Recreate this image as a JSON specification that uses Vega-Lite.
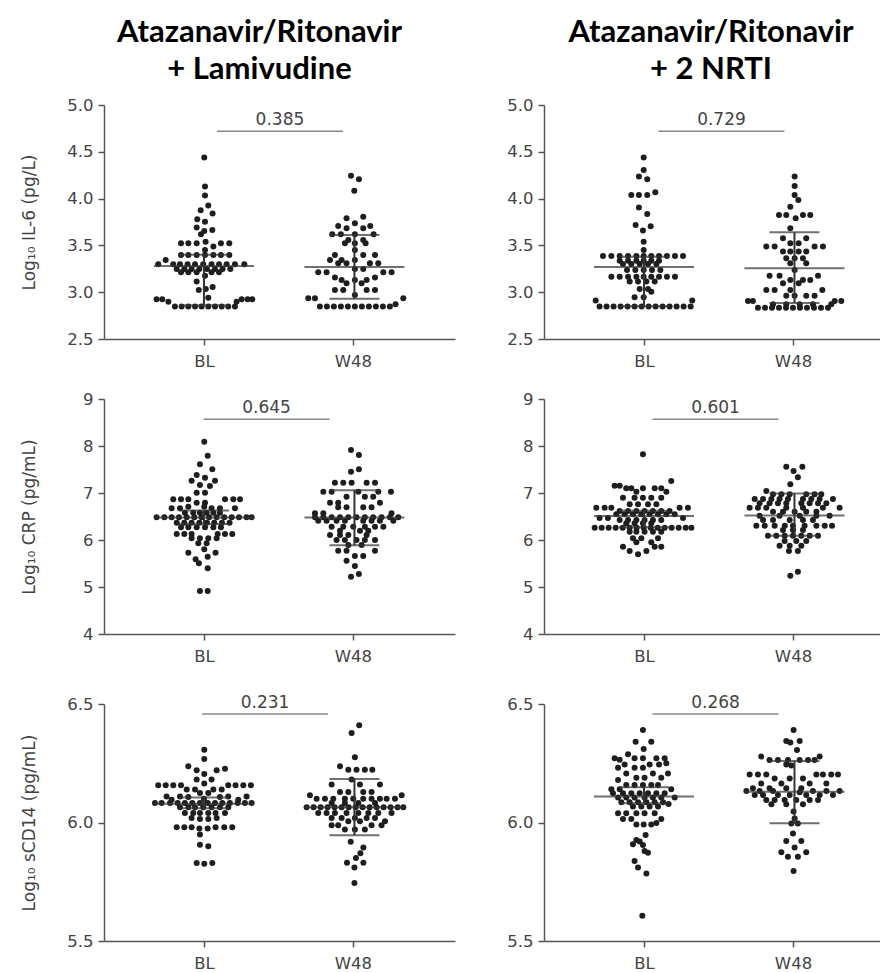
{
"$schema":"https://vega.github.io/schema/vega-lite/v6.json",
"padding":{"left":19,"top":17,"right":0,"bottom":0},
"background":"white",
"config":{"view":{"stroke":null},
"axis":{"grid":false,"domainColor":"#555","domainWidth":1.5,"tickColor":"#555","tickWidth":1.5,"tickSize":6,"labelFont":"DejaVu Sans","labelFontSize":16.5,"labelColor":"#444","labelPadding":5,"titleFont":"DejaVu Sans","titleFontSize":17,"titleFontWeight":"normal","titleColor":"#444"},
"axisX":{"labelPadding":8},
"title":{"font":"Lato","fontSize":31,"fontWeight":"bold","color":"#000","lineHeight":37,"offset":11}},
"datasets":{
"stats":[
{"p":"L1","x":1,"k":"med","y":3.28},{"p":"L1","x":1,"k":"q1","y":2.86},{"p":"L1","x":1,"k":"q3","y":3.40},
{"p":"L1","x":2.01,"k":"med","y":3.27},{"p":"L1","x":2.01,"k":"q1","y":2.93},{"p":"L1","x":2.01,"k":"q3","y":3.61},
{"p":"N1","x":1,"k":"med","y":3.27},{"p":"N1","x":1,"k":"q1","y":2.85},{"p":"N1","x":1,"k":"q3","y":3.38},
{"p":"N1","x":2.01,"k":"med","y":3.255},{"p":"N1","x":2.01,"k":"q1","y":2.885},{"p":"N1","x":2.01,"k":"q3","y":3.64},
{"p":"L2","x":1,"k":"med","y":6.48},{"p":"L2","x":1,"k":"q1","y":6.34},{"p":"L2","x":1,"k":"q3","y":6.63},
{"p":"L2","x":2.01,"k":"med","y":6.48},{"p":"L2","x":2.01,"k":"q1","y":5.89},{"p":"L2","x":2.01,"k":"q3","y":7.06},
{"p":"N2","x":1,"k":"med","y":6.51},{"p":"N2","x":1,"k":"q1","y":6.27},{"p":"N2","x":1,"k":"q3","y":6.62},
{"p":"N2","x":2.01,"k":"med","y":6.52},{"p":"N2","x":2.01,"k":"q1","y":6.09},{"p":"N2","x":2.01,"k":"q3","y":6.99},
{"p":"L3","x":1,"k":"med","y":6.079},{"p":"L3","x":1,"k":"q1","y":6.06},{"p":"L3","x":1,"k":"q3","y":6.105},
{"p":"L3","x":2.01,"k":"med","y":6.064},{"p":"L3","x":2.01,"k":"q1","y":5.946},{"p":"L3","x":2.01,"k":"q3","y":6.184},
{"p":"N3","x":1,"k":"med","y":6.11},{"p":"N3","x":1,"k":"q1","y":6.081},{"p":"N3","x":1,"k":"q3","y":6.149},
{"p":"N3","x":2.01,"k":"med","y":6.13},{"p":"N3","x":2.01,"k":"q1","y":5.997},{"p":"N3","x":2.01,"k":"q3","y":6.26}],
"iqr":[
{"p":"L1","x":1,"y":2.86,"y2":3.40},{"p":"L1","x":2.01,"y":2.93,"y2":3.61},
{"p":"N1","x":1,"y":2.85,"y2":3.38},{"p":"N1","x":2.01,"y":2.885,"y2":3.64},
{"p":"L2","x":1,"y":6.34,"y2":6.63},{"p":"L2","x":2.01,"y":5.89,"y2":7.06},
{"p":"N2","x":1,"y":6.27,"y2":6.62},{"p":"N2","x":2.01,"y":6.09,"y2":6.99},
{"p":"L3","x":1,"y":6.06,"y2":6.105},{"p":"L3","x":2.01,"y":5.946,"y2":6.184},
{"p":"N3","x":1,"y":6.081,"y2":6.149},{"p":"N3","x":2.01,"y":5.997,"y2":6.26}],
"br":[
{"p":"L1","x":1.51,"y":4.72,"t":"0.385"},{"p":"N1","x":1.52,"y":4.72,"t":"0.729"},
{"p":"L2","x":1.42,"y":8.57,"t":"0.645"},{"p":"N2","x":1.48,"y":8.57,"t":"0.601"},
{"p":"L3","x":1.41,"y":6.458,"t":"0.231"},{"p":"N3","x":1.48,"y":6.458,"t":"0.268"}],
"pts":[
{"p":"L1","x":1.002,"y":4.438},{"p":"L1","x":1.007,"y":4.128},{"p":"L1","x":1.007,"y":4.032},{"p":"L1","x":1.029,"y":3.925},{"p":"L1","x":0.978,"y":3.875},{"p":"L1","x":1.058,"y":3.84},{"p":"L1","x":0.955,"y":3.78},{"p":"L1","x":1.007,"y":3.754},{"p":"L1","x":0.951,"y":3.69},{"p":"L1","x":1.056,"y":3.665},{"p":"L1","x":1.002,"y":3.654},{"p":"L1","x":0.98,"y":3.62},
{"p":"L1","x":0.846,"y":3.523},{"p":"L1","x":0.895,"y":3.523},{"p":"L1","x":0.951,"y":3.523},{"p":"L1","x":1.114,"y":3.523},{"p":"L1","x":1.17,"y":3.523},{"p":"L1","x":1.011,"y":3.54},{"p":"L1","x":1.063,"y":3.487},{"p":"L1","x":1.007,"y":3.451},
{"p":"L1","x":0.846,"y":3.398},{"p":"L1","x":0.895,"y":3.398},{"p":"L1","x":0.951,"y":3.398},{"p":"L1","x":1.007,"y":3.398},{"p":"L1","x":1.063,"y":3.398},{"p":"L1","x":1.114,"y":3.398},{"p":"L1","x":1.17,"y":3.398},{"p":"L1","x":0.743,"y":3.345},
{"p":"L1","x":0.693,"y":3.298},{"p":"L1","x":0.794,"y":3.298},{"p":"L1","x":0.839,"y":3.298},{"p":"L1","x":0.89,"y":3.298},{"p":"L1","x":0.94,"y":3.298},{"p":"L1","x":0.995,"y":3.298},{"p":"L1","x":1.051,"y":3.298},{"p":"L1","x":1.101,"y":3.298},{"p":"L1","x":1.152,"y":3.298},{"p":"L1","x":1.208,"y":3.298},{"p":"L1","x":1.271,"y":3.298},
{"p":"L1","x":0.817,"y":3.248},{"p":"L1","x":0.868,"y":3.248},{"p":"L1","x":0.917,"y":3.248},{"p":"L1","x":0.969,"y":3.248},{"p":"L1","x":1.02,"y":3.248},{"p":"L1","x":1.074,"y":3.248},{"p":"L1","x":1.125,"y":3.248},{"p":"L1","x":1.177,"y":3.248},
{"p":"L1","x":0.846,"y":3.213},{"p":"L1","x":0.895,"y":3.213},{"p":"L1","x":0.951,"y":3.213},{"p":"L1","x":1.051,"y":3.213},{"p":"L1","x":1.101,"y":3.213},{"p":"L1","x":1.007,"y":3.177},
{"p":"L1","x":0.951,"y":3.113},{"p":"L1","x":0.965,"y":3.024},{"p":"L1","x":1.012,"y":3.035},{"p":"L1","x":1.058,"y":3.056},{"p":"L1","x":1.029,"y":2.942},
{"p":"L1","x":0.682,"y":2.924},{"p":"L1","x":0.72,"y":2.924},{"p":"L1","x":1.253,"y":2.924},{"p":"L1","x":1.293,"y":2.924},{"p":"L1","x":1.324,"y":2.924},{"p":"L1","x":0.761,"y":2.899},{"p":"L1","x":1.219,"y":2.899},
{"p":"L1","x":0.805,"y":2.846},{"p":"L1","x":0.85,"y":2.846},{"p":"L1","x":0.895,"y":2.846},{"p":"L1","x":0.94,"y":2.846},{"p":"L1","x":0.984,"y":2.846},{"p":"L1","x":1.029,"y":2.846},{"p":"L1","x":1.074,"y":2.846},{"p":"L1","x":1.119,"y":2.846},{"p":"L1","x":1.163,"y":2.846},{"p":"L1","x":1.208,"y":2.846},
{"p":"L1","x":1.987,"y":4.245},{"p":"L1","x":2.04,"y":4.206},{"p":"L1","x":2.009,"y":4.085},{"p":"L1","x":2.069,"y":3.807},{"p":"L1","x":1.957,"y":3.79},{"p":"L1","x":2.013,"y":3.736},{"p":"L1","x":1.901,"y":3.708},{"p":"L1","x":2.116,"y":3.708},{"p":"L1","x":1.957,"y":3.683},{"p":"L1","x":2.069,"y":3.683},
{"p":"L1","x":1.861,"y":3.619},{"p":"L1","x":1.919,"y":3.619},{"p":"L1","x":2.013,"y":3.619},{"p":"L1","x":2.139,"y":3.619},{"p":"L1","x":1.969,"y":3.558},{"p":"L1","x":2.069,"y":3.558},{"p":"L1","x":1.946,"y":3.523},{"p":"L1","x":2.013,"y":3.523},{"p":"L1","x":2.085,"y":3.523},{"p":"L1","x":2.013,"y":3.45},
{"p":"L1","x":1.879,"y":3.398},{"p":"L1","x":2.069,"y":3.398},{"p":"L1","x":2.148,"y":3.398},{"p":"L1","x":1.846,"y":3.345},{"p":"L1","x":1.924,"y":3.345},{"p":"L1","x":2.013,"y":3.345},{"p":"L1","x":1.901,"y":3.309},{"p":"L1","x":1.957,"y":3.309},{"p":"L1","x":2.114,"y":3.309},{"p":"L1","x":2.17,"y":3.309},
{"p":"L1","x":2.013,"y":3.248},{"p":"L1","x":2.069,"y":3.248},{"p":"L1","x":1.767,"y":3.213},{"p":"L1","x":1.823,"y":3.213},{"p":"L1","x":2.204,"y":3.213},{"p":"L1","x":2.259,"y":3.213},{"p":"L1","x":1.879,"y":3.156},{"p":"L1","x":2.148,"y":3.156},{"p":"L1","x":1.924,"y":3.131},{"p":"L1","x":2.013,"y":3.131},{"p":"L1","x":2.092,"y":3.131},
{"p":"L1","x":1.957,"y":3.095},{"p":"L1","x":2.058,"y":3.095},{"p":"L1","x":1.879,"y":3.024},{"p":"L1","x":1.935,"y":3.024},{"p":"L1","x":2.092,"y":3.024},{"p":"L1","x":2.148,"y":3.024},{"p":"L1","x":2.013,"y":2.971},{"p":"L1","x":1.7,"y":2.935},{"p":"L1","x":1.745,"y":2.935},{"p":"L1","x":2.338,"y":2.935},
{"p":"L1","x":1.778,"y":2.846},{"p":"L1","x":1.825,"y":2.846},{"p":"L1","x":1.872,"y":2.846},{"p":"L1","x":1.919,"y":2.846},{"p":"L1","x":1.966,"y":2.846},{"p":"L1","x":2.013,"y":2.846},{"p":"L1","x":2.06,"y":2.846},{"p":"L1","x":2.107,"y":2.846},{"p":"L1","x":2.154,"y":2.846},{"p":"L1","x":2.201,"y":2.846},{"p":"L1","x":2.248,"y":2.846},{"p":"L1","x":2.286,"y":2.871},

{"p":"N1","x":0.998,"y":4.438},{"p":"N1","x":0.998,"y":4.306},{"p":"N1","x":0.966,"y":4.235},{"p":"N1","x":1.022,"y":4.206},{"p":"N1","x":0.915,"y":4.039},{"p":"N1","x":0.966,"y":4.039},{"p":"N1","x":1.022,"y":4.039},{"p":"N1","x":1.076,"y":4.067},{"p":"N1","x":0.966,"y":3.904},{"p":"N1","x":1.022,"y":3.836},
{"p":"N1","x":0.944,"y":3.718},{"p":"N1","x":1.045,"y":3.704},{"p":"N1","x":0.993,"y":3.658},{"p":"N1","x":0.998,"y":3.54},{"p":"N1","x":0.998,"y":3.451},
{"p":"N1","x":0.725,"y":3.387},{"p":"N1","x":0.781,"y":3.387},{"p":"N1","x":0.837,"y":3.387},{"p":"N1","x":0.893,"y":3.387},{"p":"N1","x":0.949,"y":3.387},{"p":"N1","x":0.998,"y":3.387},{"p":"N1","x":1.049,"y":3.387},{"p":"N1","x":1.101,"y":3.387},{"p":"N1","x":1.154,"y":3.387},{"p":"N1","x":1.208,"y":3.387},{"p":"N1","x":1.262,"y":3.387},
{"p":"N1","x":0.837,"y":3.337},{"p":"N1","x":0.893,"y":3.337},{"p":"N1","x":0.949,"y":3.337},{"p":"N1","x":0.998,"y":3.337},{"p":"N1","x":1.049,"y":3.337},{"p":"N1","x":1.101,"y":3.337},
{"p":"N1","x":0.859,"y":3.302},{"p":"N1","x":0.915,"y":3.302},{"p":"N1","x":0.971,"y":3.302},{"p":"N1","x":1.027,"y":3.302},{"p":"N1","x":1.083,"y":3.302},
{"p":"N1","x":0.886,"y":3.238},{"p":"N1","x":0.942,"y":3.238},{"p":"N1","x":0.998,"y":3.238},{"p":"N1","x":1.054,"y":3.238},{"p":"N1","x":1.11,"y":3.238},
{"p":"N1","x":0.781,"y":3.166},{"p":"N1","x":0.837,"y":3.166},{"p":"N1","x":0.893,"y":3.166},{"p":"N1","x":0.949,"y":3.166},{"p":"N1","x":0.998,"y":3.166},{"p":"N1","x":1.049,"y":3.166},{"p":"N1","x":1.101,"y":3.166},{"p":"N1","x":1.154,"y":3.166},{"p":"N1","x":1.208,"y":3.166},
{"p":"N1","x":0.904,"y":3.113},{"p":"N1","x":0.96,"y":3.113},{"p":"N1","x":1.016,"y":3.113},{"p":"N1","x":1.072,"y":3.113},{"p":"N1","x":0.971,"y":3.035},{"p":"N1","x":1.027,"y":3.035},{"p":"N1","x":1.049,"y":3.006},{"p":"N1","x":0.937,"y":2.946},{"p":"N1","x":0.998,"y":2.946},{"p":"N1","x":0.676,"y":2.91},{"p":"N1","x":1.324,"y":2.91},
{"p":"N1","x":0.702,"y":2.846},{"p":"N1","x":0.749,"y":2.846},{"p":"N1","x":0.796,"y":2.846},{"p":"N1","x":0.843,"y":2.846},{"p":"N1","x":0.89,"y":2.846},{"p":"N1","x":0.937,"y":2.846},{"p":"N1","x":0.984,"y":2.846},{"p":"N1","x":1.031,"y":2.846},{"p":"N1","x":1.078,"y":2.846},{"p":"N1","x":1.125,"y":2.846},{"p":"N1","x":1.172,"y":2.846},{"p":"N1","x":1.219,"y":2.846},{"p":"N1","x":1.266,"y":2.846},{"p":"N1","x":1.313,"y":2.846},
{"p":"N1","x":2.011,"y":4.235},{"p":"N1","x":2.011,"y":4.135},{"p":"N1","x":2.011,"y":4.039},{"p":"N1","x":2.036,"y":3.985},{"p":"N1","x":1.982,"y":3.914},{"p":"N1","x":1.906,"y":3.825},{"p":"N1","x":1.955,"y":3.825},{"p":"N1","x":2.067,"y":3.825},{"p":"N1","x":2.116,"y":3.825},{"p":"N1","x":2.018,"y":3.79},{"p":"N1","x":1.982,"y":3.683},
{"p":"N1","x":1.933,"y":3.576},{"p":"N1","x":2.089,"y":3.576},{"p":"N1","x":1.982,"y":3.523},{"p":"N1","x":2.038,"y":3.523},{"p":"N1","x":1.821,"y":3.487},{"p":"N1","x":1.877,"y":3.487},{"p":"N1","x":2.145,"y":3.487},{"p":"N1","x":2.201,"y":3.487},
{"p":"N1","x":1.933,"y":3.434},{"p":"N1","x":1.982,"y":3.434},{"p":"N1","x":2.038,"y":3.434},{"p":"N1","x":2.089,"y":3.434},{"p":"N1","x":1.955,"y":3.362},{"p":"N1","x":2.011,"y":3.362},{"p":"N1","x":2.067,"y":3.362},{"p":"N1","x":1.982,"y":3.309},{"p":"N1","x":2.089,"y":3.309},{"p":"N1","x":2.011,"y":3.238},
{"p":"N1","x":1.843,"y":3.177},{"p":"N1","x":1.91,"y":3.177},{"p":"N1","x":2.168,"y":3.177},{"p":"N1","x":1.982,"y":3.131},{"p":"N1","x":2.067,"y":3.131},{"p":"N1","x":2.116,"y":3.131},{"p":"N1","x":1.933,"y":3.095},{"p":"N1","x":2.038,"y":3.095},
{"p":"N1","x":1.821,"y":3.024},{"p":"N1","x":1.877,"y":3.024},{"p":"N1","x":1.982,"y":3.024},{"p":"N1","x":2.197,"y":3.024},{"p":"N1","x":1.955,"y":2.963},{"p":"N1","x":2.011,"y":2.963},{"p":"N1","x":2.089,"y":2.963},{"p":"N1","x":2.145,"y":2.963},
{"p":"N1","x":1.698,"y":2.906},{"p":"N1","x":1.731,"y":2.906},{"p":"N1","x":2.28,"y":2.906},{"p":"N1","x":2.324,"y":2.906},
{"p":"N1","x":1.765,"y":2.835},{"p":"N1","x":1.812,"y":2.835},{"p":"N1","x":1.859,"y":2.835},{"p":"N1","x":1.906,"y":2.835},{"p":"N1","x":1.953,"y":2.835},{"p":"N1","x":2.0,"y":2.835},{"p":"N1","x":2.047,"y":2.835},{"p":"N1","x":2.094,"y":2.835},{"p":"N1","x":2.141,"y":2.835},{"p":"N1","x":2.188,"y":2.835},{"p":"N1","x":2.235,"y":2.835},
{"p":"N1","x":1.866,"y":2.871},{"p":"N1","x":1.955,"y":2.871},{"p":"N1","x":2.045,"y":2.871},{"p":"N1","x":2.134,"y":2.871},{"p":"N1","x":2.257,"y":2.871},

{"p":"L2","x":1.002,"y":8.092},{"p":"L2","x":1.025,"y":7.794},{"p":"L2","x":0.973,"y":7.61},{"p":"L2","x":1.056,"y":7.503},{"p":"L2","x":0.951,"y":7.383},{"p":"L2","x":1.007,"y":7.326},{"p":"L2","x":0.917,"y":7.262},{"p":"L2","x":1.074,"y":7.262},{"p":"L2","x":0.973,"y":7.17},{"p":"L2","x":1.04,"y":7.15},{"p":"L2","x":0.951,"y":7.007},{"p":"L2","x":1.007,"y":7.007},
{"p":"L2","x":0.794,"y":6.865},{"p":"L2","x":0.846,"y":6.865},{"p":"L2","x":0.895,"y":6.865},{"p":"L2","x":1.141,"y":6.865},{"p":"L2","x":1.197,"y":6.865},{"p":"L2","x":1.242,"y":6.865},{"p":"L2","x":0.951,"y":6.794},{"p":"L2","x":1.007,"y":6.794},{"p":"L2","x":0.895,"y":6.709},{"p":"L2","x":1.002,"y":6.709},
{"p":"L2","x":0.783,"y":6.673},{"p":"L2","x":0.839,"y":6.673},{"p":"L2","x":1.051,"y":6.673},{"p":"L2","x":1.107,"y":6.673},{"p":"L2","x":1.208,"y":6.673},
{"p":"L2","x":0.872,"y":6.581},{"p":"L2","x":0.928,"y":6.581},{"p":"L2","x":0.973,"y":6.581},{"p":"L2","x":1.018,"y":6.581},{"p":"L2","x":1.063,"y":6.581},{"p":"L2","x":1.107,"y":6.581},
{"p":"L2","x":0.682,"y":6.482},{"p":"L2","x":0.734,"y":6.482},{"p":"L2","x":0.783,"y":6.482},{"p":"L2","x":0.832,"y":6.482},{"p":"L2","x":0.884,"y":6.482},{"p":"L2","x":0.935,"y":6.482},{"p":"L2","x":0.984,"y":6.482},{"p":"L2","x":1.034,"y":6.482},{"p":"L2","x":1.085,"y":6.482},{"p":"L2","x":1.136,"y":6.482},{"p":"L2","x":1.186,"y":6.482},{"p":"L2","x":1.235,"y":6.482},{"p":"L2","x":1.286,"y":6.482},{"p":"L2","x":1.32,"y":6.482},
{"p":"L2","x":0.817,"y":6.368},{"p":"L2","x":0.868,"y":6.368},{"p":"L2","x":0.917,"y":6.368},{"p":"L2","x":0.969,"y":6.368},{"p":"L2","x":1.02,"y":6.368},{"p":"L2","x":1.069,"y":6.368},{"p":"L2","x":1.121,"y":6.368},{"p":"L2","x":1.172,"y":6.368},
{"p":"L2","x":0.846,"y":6.269},{"p":"L2","x":0.895,"y":6.269},{"p":"L2","x":0.951,"y":6.269},{"p":"L2","x":1.007,"y":6.269},{"p":"L2","x":1.063,"y":6.269},{"p":"L2","x":1.114,"y":6.269},
{"p":"L2","x":0.817,"y":6.127},{"p":"L2","x":0.868,"y":6.127},{"p":"L2","x":0.917,"y":6.127},{"p":"L2","x":1.092,"y":6.127},{"p":"L2","x":1.141,"y":6.127},{"p":"L2","x":1.19,"y":6.127},
{"p":"L2","x":0.917,"y":6.035},{"p":"L2","x":0.973,"y":6.035},{"p":"L2","x":1.029,"y":6.035},{"p":"L2","x":1.085,"y":6.035},{"p":"L2","x":0.962,"y":5.929},{"p":"L2","x":1.018,"y":5.929},{"p":"L2","x":1.002,"y":5.801},{"p":"L2","x":0.895,"y":5.73},{"p":"L2","x":1.078,"y":5.73},{"p":"L2","x":1.025,"y":5.645},{"p":"L2","x":0.944,"y":5.588},{"p":"L2","x":0.966,"y":5.503},{"p":"L2","x":1.025,"y":5.397},{"p":"L2","x":0.973,"y":4.915},{"p":"L2","x":1.025,"y":4.915},
{"p":"L2","x":1.987,"y":7.915},{"p":"L2","x":2.04,"y":7.808},{"p":"L2","x":2.04,"y":7.503},{"p":"L2","x":1.987,"y":7.454},
{"p":"L2","x":1.879,"y":7.219},{"p":"L2","x":1.935,"y":7.219},{"p":"L2","x":1.991,"y":7.219},{"p":"L2","x":2.092,"y":7.219},{"p":"L2","x":2.148,"y":7.219},
{"p":"L2","x":1.801,"y":7.028},{"p":"L2","x":1.857,"y":7.028},{"p":"L2","x":2.036,"y":7.028},{"p":"L2","x":2.17,"y":7.028},{"p":"L2","x":2.255,"y":7.028},
{"p":"L2","x":1.957,"y":6.922},{"p":"L2","x":2.08,"y":6.922},{"p":"L2","x":2.136,"y":6.922},{"p":"L2","x":1.846,"y":6.794},{"p":"L2","x":1.901,"y":6.794},{"p":"L2","x":2.181,"y":6.794},
{"p":"L2","x":1.901,"y":6.695},{"p":"L2","x":1.957,"y":6.695},{"p":"L2","x":2.069,"y":6.695},{"p":"L2","x":2.125,"y":6.695},{"p":"L2","x":1.745,"y":6.567},{"p":"L2","x":1.801,"y":6.567},{"p":"L2","x":2.259,"y":6.567},
{"p":"L2","x":1.745,"y":6.482},{"p":"L2","x":1.801,"y":6.482},{"p":"L2","x":1.857,"y":6.482},{"p":"L2","x":1.913,"y":6.482},{"p":"L2","x":1.969,"y":6.482},{"p":"L2","x":2.024,"y":6.482},{"p":"L2","x":2.08,"y":6.482},{"p":"L2","x":2.136,"y":6.482},{"p":"L2","x":2.192,"y":6.482},{"p":"L2","x":2.248,"y":6.482},{"p":"L2","x":2.304,"y":6.482},
{"p":"L2","x":1.767,"y":6.411},{"p":"L2","x":1.823,"y":6.411},{"p":"L2","x":1.89,"y":6.411},{"p":"L2","x":1.946,"y":6.411},{"p":"L2","x":2.069,"y":6.411},{"p":"L2","x":2.125,"y":6.411},{"p":"L2","x":2.181,"y":6.411},{"p":"L2","x":2.271,"y":6.411},
{"p":"L2","x":1.857,"y":6.283},{"p":"L2","x":1.935,"y":6.283},{"p":"L2","x":2.002,"y":6.283},{"p":"L2","x":2.08,"y":6.283},{"p":"L2","x":2.148,"y":6.283},{"p":"L2","x":2.204,"y":6.283},
{"p":"L2","x":1.913,"y":6.198},{"p":"L2","x":2.047,"y":6.198},{"p":"L2","x":2.103,"y":6.198},{"p":"L2","x":1.846,"y":6.106},{"p":"L2","x":1.913,"y":6.106},{"p":"L2","x":1.969,"y":6.106},{"p":"L2","x":2.092,"y":6.106},
{"p":"L2","x":1.89,"y":6.0},{"p":"L2","x":1.946,"y":6.0},{"p":"L2","x":2.024,"y":6.0},{"p":"L2","x":2.08,"y":6.0},{"p":"L2","x":2.148,"y":6.0},{"p":"L2","x":1.969,"y":5.893},{"p":"L2","x":2.058,"y":5.893},
{"p":"L2","x":1.901,"y":5.773},{"p":"L2","x":1.957,"y":5.773},{"p":"L2","x":2.148,"y":5.773},{"p":"L2","x":2.013,"y":5.66},{"p":"L2","x":2.069,"y":5.66},{"p":"L2","x":1.957,"y":5.56},{"p":"L2","x":2.013,"y":5.446},{"p":"L2","x":1.987,"y":5.22},{"p":"L2","x":2.04,"y":5.276},

{"p":"N2","x":0.993,"y":7.822},{"p":"N2","x":1.183,"y":7.255},{"p":"N2","x":0.803,"y":7.156},{"p":"N2","x":0.837,"y":7.156},
{"p":"N2","x":0.881,"y":7.1},{"p":"N2","x":0.915,"y":7.1},{"p":"N2","x":0.993,"y":7.1},{"p":"N2","x":1.072,"y":7.1},{"p":"N2","x":1.116,"y":7.1},{"p":"N2","x":1.15,"y":7.028},{"p":"N2","x":0.949,"y":7.028},
{"p":"N2","x":0.859,"y":6.9},{"p":"N2","x":0.937,"y":6.9},{"p":"N2","x":0.993,"y":6.9},{"p":"N2","x":1.049,"y":6.9},{"p":"N2","x":1.116,"y":6.9},
{"p":"N2","x":0.904,"y":6.759},{"p":"N2","x":0.96,"y":6.759},{"p":"N2","x":1.027,"y":6.759},{"p":"N2","x":1.083,"y":6.759},
{"p":"N2","x":0.68,"y":6.688},{"p":"N2","x":0.736,"y":6.688},{"p":"N2","x":0.781,"y":6.688},{"p":"N2","x":1.239,"y":6.688},{"p":"N2","x":1.295,"y":6.688},
{"p":"N2","x":0.837,"y":6.617},{"p":"N2","x":0.893,"y":6.617},{"p":"N2","x":0.949,"y":6.617},{"p":"N2","x":1.004,"y":6.617},{"p":"N2","x":1.06,"y":6.617},{"p":"N2","x":1.116,"y":6.617},{"p":"N2","x":1.172,"y":6.617},
{"p":"N2","x":0.814,"y":6.546},{"p":"N2","x":0.87,"y":6.546},{"p":"N2","x":0.926,"y":6.546},{"p":"N2","x":0.982,"y":6.546},{"p":"N2","x":1.038,"y":6.546},{"p":"N2","x":1.094,"y":6.546},{"p":"N2","x":1.15,"y":6.546},{"p":"N2","x":1.206,"y":6.546},
{"p":"N2","x":0.702,"y":6.47},{"p":"N2","x":0.758,"y":6.47},{"p":"N2","x":1.262,"y":6.47},
{"p":"N2","x":0.837,"y":6.425},{"p":"N2","x":0.893,"y":6.425},{"p":"N2","x":0.949,"y":6.425},{"p":"N2","x":1.004,"y":6.425},{"p":"N2","x":1.06,"y":6.425},{"p":"N2","x":1.116,"y":6.425},
{"p":"N2","x":0.881,"y":6.354},{"p":"N2","x":0.937,"y":6.354},{"p":"N2","x":0.993,"y":6.354},{"p":"N2","x":1.049,"y":6.354},
{"p":"N2","x":0.669,"y":6.262},{"p":"N2","x":0.716,"y":6.262},{"p":"N2","x":0.763,"y":6.262},{"p":"N2","x":0.81,"y":6.262},{"p":"N2","x":0.857,"y":6.262},{"p":"N2","x":0.904,"y":6.262},{"p":"N2","x":0.951,"y":6.262},{"p":"N2","x":0.998,"y":6.262},{"p":"N2","x":1.045,"y":6.262},{"p":"N2","x":1.092,"y":6.262},{"p":"N2","x":1.139,"y":6.262},{"p":"N2","x":1.186,"y":6.262},{"p":"N2","x":1.233,"y":6.262},{"p":"N2","x":1.28,"y":6.262},{"p":"N2","x":1.318,"y":6.262},
{"p":"N2","x":0.904,"y":6.177},{"p":"N2","x":0.949,"y":6.177},{"p":"N2","x":1.004,"y":6.177},{"p":"N2","x":1.06,"y":6.177},{"p":"N2","x":1.116,"y":6.177},
{"p":"N2","x":0.926,"y":6.035},{"p":"N2","x":0.982,"y":6.035},{"p":"N2","x":1.094,"y":6.035},{"p":"N2","x":0.949,"y":5.95},{"p":"N2","x":1.049,"y":5.95},{"p":"N2","x":0.859,"y":5.858},{"p":"N2","x":1.072,"y":5.858},{"p":"N2","x":1.116,"y":5.858},{"p":"N2","x":0.904,"y":5.766},{"p":"N2","x":1.016,"y":5.766},{"p":"N2","x":0.96,"y":5.695},
{"p":"N2","x":1.955,"y":7.56},{"p":"N2","x":2.063,"y":7.56},{"p":"N2","x":2.004,"y":7.468},{"p":"N2","x":2.033,"y":7.333},{"p":"N2","x":1.982,"y":7.184},{"p":"N2","x":1.821,"y":7.042},
{"p":"N2","x":1.866,"y":6.971},{"p":"N2","x":1.922,"y":6.971},{"p":"N2","x":1.978,"y":6.971},{"p":"N2","x":2.089,"y":6.971},{"p":"N2","x":2.145,"y":6.971},{"p":"N2","x":2.19,"y":6.971},
{"p":"N2","x":1.743,"y":6.872},{"p":"N2","x":1.799,"y":6.872},{"p":"N2","x":1.855,"y":6.872},{"p":"N2","x":1.91,"y":6.872},{"p":"N2","x":1.966,"y":6.872},{"p":"N2","x":2.067,"y":6.872},{"p":"N2","x":2.123,"y":6.872},{"p":"N2","x":2.179,"y":6.872},{"p":"N2","x":2.268,"y":6.872},
{"p":"N2","x":1.776,"y":6.78},{"p":"N2","x":1.843,"y":6.78},{"p":"N2","x":1.899,"y":6.78},{"p":"N2","x":1.955,"y":6.78},{"p":"N2","x":2.056,"y":6.78},{"p":"N2","x":2.112,"y":6.78},{"p":"N2","x":2.168,"y":6.78},{"p":"N2","x":2.224,"y":6.78},
{"p":"N2","x":1.709,"y":6.688},{"p":"N2","x":1.765,"y":6.688},{"p":"N2","x":2.313,"y":6.688},{"p":"N2","x":1.821,"y":6.688},{"p":"N2","x":1.955,"y":6.688},{"p":"N2","x":2.067,"y":6.688},{"p":"N2","x":2.201,"y":6.688},
{"p":"N2","x":1.866,"y":6.603},{"p":"N2","x":1.933,"y":6.603},{"p":"N2","x":2.011,"y":6.603},{"p":"N2","x":2.089,"y":6.603},{"p":"N2","x":2.157,"y":6.603},
{"p":"N2","x":1.776,"y":6.518},{"p":"N2","x":1.91,"y":6.518},{"p":"N2","x":2.045,"y":6.518},{"p":"N2","x":2.157,"y":6.518},{"p":"N2","x":2.246,"y":6.518},
{"p":"N2","x":1.799,"y":6.425},{"p":"N2","x":1.866,"y":6.425},{"p":"N2","x":1.978,"y":6.425},{"p":"N2","x":2.067,"y":6.425},{"p":"N2","x":2.134,"y":6.425},
{"p":"N2","x":1.754,"y":6.305},{"p":"N2","x":1.81,"y":6.305},{"p":"N2","x":1.877,"y":6.305},{"p":"N2","x":1.945,"y":6.305},{"p":"N2","x":2.0,"y":6.305},{"p":"N2","x":2.078,"y":6.305},{"p":"N2","x":2.157,"y":6.305},{"p":"N2","x":2.213,"y":6.305},{"p":"N2","x":2.262,"y":6.305},
{"p":"N2","x":1.933,"y":6.213},{"p":"N2","x":2.0,"y":6.213},{"p":"N2","x":2.067,"y":6.213},
{"p":"N2","x":1.832,"y":6.092},{"p":"N2","x":1.888,"y":6.092},{"p":"N2","x":1.944,"y":6.092},{"p":"N2","x":2.0,"y":6.092},{"p":"N2","x":2.056,"y":6.092},{"p":"N2","x":2.112,"y":6.092},{"p":"N2","x":2.168,"y":6.092},
{"p":"N2","x":1.944,"y":5.979},{"p":"N2","x":2.022,"y":5.979},{"p":"N2","x":2.089,"y":5.979},{"p":"N2","x":1.91,"y":5.88},{"p":"N2","x":1.978,"y":5.88},{"p":"N2","x":2.056,"y":5.88},{"p":"N2","x":1.973,"y":5.766},{"p":"N2","x":2.033,"y":5.766},{"p":"N2","x":2.033,"y":5.326},{"p":"N2","x":1.982,"y":5.241},

{"p":"L3","x":1.002,"y":6.307},{"p":"L3","x":1.002,"y":6.268},{"p":"L3","x":0.895,"y":6.237},{"p":"L3","x":1.141,"y":6.227},{"p":"L3","x":0.951,"y":6.22},{"p":"L3","x":1.085,"y":6.22},{"p":"L3","x":1.002,"y":6.205},{"p":"L3","x":0.951,"y":6.181},{"p":"L3","x":1.051,"y":6.181},{"p":"L3","x":1.002,"y":6.165},
{"p":"L3","x":0.693,"y":6.157},{"p":"L3","x":0.743,"y":6.157},{"p":"L3","x":0.794,"y":6.157},{"p":"L3","x":0.846,"y":6.157},{"p":"L3","x":1.163,"y":6.157},{"p":"L3","x":1.212,"y":6.157},{"p":"L3","x":1.264,"y":6.157},{"p":"L3","x":1.315,"y":6.157},
{"p":"L3","x":0.884,"y":6.139},{"p":"L3","x":0.94,"y":6.139},{"p":"L3","x":1.063,"y":6.139},{"p":"L3","x":1.119,"y":6.139},{"p":"L3","x":0.973,"y":6.125},{"p":"L3","x":1.029,"y":6.125},
{"p":"L3","x":0.749,"y":6.11},{"p":"L3","x":1.286,"y":6.11},{"p":"L3","x":0.839,"y":6.11},{"p":"L3","x":0.895,"y":6.108},{"p":"L3","x":1.107,"y":6.108},{"p":"L3","x":1.163,"y":6.11},{"p":"L3","x":0.783,"y":6.096},{"p":"L3","x":1.23,"y":6.096},{"p":"L3","x":1.0,"y":6.1},
{"p":"L3","x":0.671,"y":6.082},{"p":"L3","x":0.716,"y":6.082},{"p":"L3","x":0.772,"y":6.082},{"p":"L3","x":0.823,"y":6.082},{"p":"L3","x":0.872,"y":6.082},{"p":"L3","x":0.922,"y":6.082},{"p":"L3","x":0.973,"y":6.082},{"p":"L3","x":1.025,"y":6.082},{"p":"L3","x":1.074,"y":6.082},{"p":"L3","x":1.123,"y":6.082},{"p":"L3","x":1.174,"y":6.082},{"p":"L3","x":1.226,"y":6.082},{"p":"L3","x":1.275,"y":6.082},{"p":"L3","x":1.32,"y":6.082},
{"p":"L3","x":0.839,"y":6.064},{"p":"L3","x":0.895,"y":6.064},{"p":"L3","x":0.94,"y":6.064},{"p":"L3","x":0.995,"y":6.064},{"p":"L3","x":1.051,"y":6.064},{"p":"L3","x":1.107,"y":6.064},{"p":"L3","x":1.163,"y":6.064},
{"p":"L3","x":0.872,"y":6.04},{"p":"L3","x":0.928,"y":6.04},{"p":"L3","x":0.973,"y":6.04},{"p":"L3","x":1.029,"y":6.04},{"p":"L3","x":1.078,"y":6.04},{"p":"L3","x":1.141,"y":6.04},
{"p":"L3","x":0.917,"y":6.019},{"p":"L3","x":0.973,"y":6.015},{"p":"L3","x":1.029,"y":6.015},{"p":"L3","x":1.085,"y":6.019},
{"p":"L3","x":0.817,"y":5.98},{"p":"L3","x":0.868,"y":5.98},{"p":"L3","x":0.917,"y":5.98},{"p":"L3","x":0.969,"y":5.975},{"p":"L3","x":1.025,"y":5.975},{"p":"L3","x":1.078,"y":5.98},{"p":"L3","x":1.136,"y":5.98},{"p":"L3","x":1.19,"y":5.98},
{"p":"L3","x":0.973,"y":5.949},{"p":"L3","x":0.973,"y":5.906},{"p":"L3","x":1.029,"y":5.9},{"p":"L3","x":0.951,"y":5.829},{"p":"L3","x":1.002,"y":5.826},{"p":"L3","x":1.056,"y":5.829},
{"p":"L3","x":2.042,"y":6.41},{"p":"L3","x":1.991,"y":6.378},{"p":"L3","x":2.013,"y":6.275},{"p":"L3","x":1.913,"y":6.237},{"p":"L3","x":1.969,"y":6.223},{"p":"L3","x":2.024,"y":6.223},{"p":"L3","x":2.08,"y":6.223},{"p":"L3","x":2.13,"y":6.223},{"p":"L3","x":1.991,"y":6.181},
{"p":"L3","x":1.857,"y":6.16},{"p":"L3","x":2.047,"y":6.16},{"p":"L3","x":2.181,"y":6.16},{"p":"L3","x":1.913,"y":6.129},{"p":"L3","x":1.969,"y":6.129},{"p":"L3","x":2.069,"y":6.129},{"p":"L3","x":2.125,"y":6.129},{"p":"L3","x":1.711,"y":6.115},{"p":"L3","x":2.327,"y":6.115},
{"p":"L3","x":1.756,"y":6.1},{"p":"L3","x":1.812,"y":6.1},{"p":"L3","x":1.868,"y":6.1},{"p":"L3","x":1.946,"y":6.1},{"p":"L3","x":2.002,"y":6.1},{"p":"L3","x":2.069,"y":6.1},{"p":"L3","x":2.125,"y":6.1},{"p":"L3","x":2.181,"y":6.1},{"p":"L3","x":2.226,"y":6.1},{"p":"L3","x":2.282,"y":6.1},
{"p":"L3","x":1.857,"y":6.082},{"p":"L3","x":1.946,"y":6.082},{"p":"L3","x":2.036,"y":6.082},{"p":"L3","x":2.148,"y":6.082},
{"p":"L3","x":1.689,"y":6.064},{"p":"L3","x":1.736,"y":6.064},{"p":"L3","x":1.783,"y":6.064},{"p":"L3","x":1.83,"y":6.064},{"p":"L3","x":1.877,"y":6.064},{"p":"L3","x":1.924,"y":6.064},{"p":"L3","x":1.971,"y":6.064},{"p":"L3","x":2.018,"y":6.064},{"p":"L3","x":2.065,"y":6.064},{"p":"L3","x":2.112,"y":6.064},{"p":"L3","x":2.159,"y":6.064},{"p":"L3","x":2.206,"y":6.064},{"p":"L3","x":2.253,"y":6.064},{"p":"L3","x":2.3,"y":6.064},{"p":"L3","x":2.338,"y":6.064},
{"p":"L3","x":1.767,"y":6.04},{"p":"L3","x":1.823,"y":6.04},{"p":"L3","x":1.879,"y":6.04},{"p":"L3","x":1.957,"y":6.04},{"p":"L3","x":2.036,"y":6.04},{"p":"L3","x":2.103,"y":6.04},{"p":"L3","x":2.17,"y":6.04},{"p":"L3","x":2.259,"y":6.04},
{"p":"L3","x":1.857,"y":6.019},{"p":"L3","x":1.924,"y":6.019},{"p":"L3","x":2.013,"y":6.019},{"p":"L3","x":2.092,"y":6.019},{"p":"L3","x":2.148,"y":6.019},{"p":"L3","x":1.969,"y":6.005},{"p":"L3","x":2.047,"y":6.005},{"p":"L3","x":2.215,"y":6.005},
{"p":"L3","x":1.857,"y":5.988},{"p":"L3","x":1.901,"y":5.988},{"p":"L3","x":2.125,"y":5.988},{"p":"L3","x":2.192,"y":5.988},{"p":"L3","x":1.946,"y":5.97},{"p":"L3","x":2.013,"y":5.97},{"p":"L3","x":2.08,"y":5.97},
{"p":"L3","x":1.985,"y":5.919},{"p":"L3","x":2.07,"y":5.895},{"p":"L3","x":2.05,"y":5.87},{"p":"L3","x":2.02,"y":5.85},{"p":"L3","x":1.96,"y":5.83},{"p":"L3","x":2.07,"y":5.83},{"p":"L3","x":2.01,"y":5.81},{"p":"L3","x":2.01,"y":5.745},

{"p":"N3","x":0.993,"y":6.39},{"p":"N3","x":0.944,"y":6.341},{"p":"N3","x":1.049,"y":6.341},{"p":"N3","x":0.998,"y":6.31},{"p":"N3","x":0.893,"y":6.288},
{"p":"N3","x":0.803,"y":6.271},{"p":"N3","x":0.837,"y":6.265},{"p":"N3","x":0.937,"y":6.271},{"p":"N3","x":0.993,"y":6.271},{"p":"N3","x":1.083,"y":6.271},{"p":"N3","x":1.139,"y":6.271},
{"p":"N3","x":0.87,"y":6.245},{"p":"N3","x":1.038,"y":6.245},{"p":"N3","x":1.101,"y":6.245},{"p":"N3","x":1.15,"y":6.25},{"p":"N3","x":0.826,"y":6.231},{"p":"N3","x":0.937,"y":6.231},{"p":"N3","x":0.993,"y":6.231},
{"p":"N3","x":0.881,"y":6.207},{"p":"N3","x":1.06,"y":6.207},{"p":"N3","x":1.161,"y":6.207},{"p":"N3","x":0.949,"y":6.189},{"p":"N3","x":1.004,"y":6.189},{"p":"N3","x":1.116,"y":6.189},{"p":"N3","x":0.826,"y":6.179},
{"p":"N3","x":0.881,"y":6.158},{"p":"N3","x":0.937,"y":6.158},{"p":"N3","x":0.993,"y":6.158},{"p":"N3","x":1.049,"y":6.158},{"p":"N3","x":1.094,"y":6.158},{"p":"N3","x":0.781,"y":6.14},{"p":"N3","x":0.837,"y":6.14},{"p":"N3","x":1.183,"y":6.14},
{"p":"N3","x":0.792,"y":6.123},{"p":"N3","x":0.859,"y":6.123},{"p":"N3","x":0.915,"y":6.123},{"p":"N3","x":0.971,"y":6.123},{"p":"N3","x":1.027,"y":6.123},{"p":"N3","x":1.083,"y":6.123},{"p":"N3","x":1.139,"y":6.123},
{"p":"N3","x":0.826,"y":6.105},{"p":"N3","x":0.881,"y":6.105},{"p":"N3","x":0.937,"y":6.105},{"p":"N3","x":1.004,"y":6.105},{"p":"N3","x":1.06,"y":6.105},{"p":"N3","x":1.116,"y":6.105},{"p":"N3","x":1.206,"y":6.105},
{"p":"N3","x":0.848,"y":6.085},{"p":"N3","x":0.904,"y":6.085},{"p":"N3","x":0.96,"y":6.085},{"p":"N3","x":1.016,"y":6.085},{"p":"N3","x":1.072,"y":6.085},{"p":"N3","x":1.128,"y":6.085},{"p":"N3","x":1.165,"y":6.078},
{"p":"N3","x":0.926,"y":6.067},{"p":"N3","x":0.982,"y":6.067},{"p":"N3","x":1.038,"y":6.067},{"p":"N3","x":1.094,"y":6.067},
{"p":"N3","x":0.826,"y":6.039},{"p":"N3","x":0.881,"y":6.039},{"p":"N3","x":0.949,"y":6.039},{"p":"N3","x":1.004,"y":6.039},{"p":"N3","x":1.072,"y":6.039},{"p":"N3","x":0.859,"y":6.015},{"p":"N3","x":0.915,"y":6.015},{"p":"N3","x":1.116,"y":6.015},
{"p":"N3","x":0.949,"y":5.992},{"p":"N3","x":0.998,"y":5.992},{"p":"N3","x":1.049,"y":5.992},{"p":"N3","x":1.083,"y":5.998},{"p":"N3","x":1.011,"y":5.947},{"p":"N3","x":0.949,"y":5.926},{"p":"N3","x":0.971,"y":5.92},{"p":"N3","x":0.926,"y":5.908},{"p":"N3","x":0.993,"y":5.905},
{"p":"N3","x":1.004,"y":5.88},{"p":"N3","x":1.027,"y":5.872},{"p":"N3","x":0.937,"y":5.838},{"p":"N3","x":0.96,"y":5.81},{"p":"N3","x":1.016,"y":5.785},{"p":"N3","x":0.989,"y":5.607},
{"p":"N3","x":2.004,"y":6.39},{"p":"N3","x":1.955,"y":6.344},{"p":"N3","x":1.982,"y":6.338},{"p":"N3","x":2.045,"y":6.344},{"p":"N3","x":2.027,"y":6.306},{"p":"N3","x":1.787,"y":6.278},{"p":"N3","x":2.179,"y":6.278},
{"p":"N3","x":1.843,"y":6.264},{"p":"N3","x":1.899,"y":6.264},{"p":"N3","x":1.966,"y":6.264},{"p":"N3","x":2.045,"y":6.264},{"p":"N3","x":2.101,"y":6.264},{"p":"N3","x":2.145,"y":6.264},{"p":"N3","x":1.955,"y":6.245},{"p":"N3","x":1.989,"y":6.24},
{"p":"N3","x":1.709,"y":6.203},{"p":"N3","x":1.765,"y":6.203},{"p":"N3","x":1.821,"y":6.203},{"p":"N3","x":2.157,"y":6.203},{"p":"N3","x":2.201,"y":6.203},{"p":"N3","x":2.257,"y":6.203},{"p":"N3","x":2.302,"y":6.203},
{"p":"N3","x":1.877,"y":6.186},{"p":"N3","x":1.978,"y":6.186},{"p":"N3","x":2.067,"y":6.186},{"p":"N3","x":1.787,"y":6.165},{"p":"N3","x":1.922,"y":6.165},{"p":"N3","x":2.112,"y":6.165},{"p":"N3","x":2.224,"y":6.165},
{"p":"N3","x":1.731,"y":6.144},{"p":"N3","x":1.843,"y":6.144},{"p":"N3","x":1.955,"y":6.144},{"p":"N3","x":2.056,"y":6.144},
{"p":"N3","x":1.687,"y":6.133},{"p":"N3","x":1.776,"y":6.133},{"p":"N3","x":1.866,"y":6.133},{"p":"N3","x":2.045,"y":6.128},{"p":"N3","x":2.134,"y":6.133},{"p":"N3","x":2.224,"y":6.133},{"p":"N3","x":2.313,"y":6.133},
{"p":"N3","x":1.743,"y":6.116},{"p":"N3","x":1.799,"y":6.116},{"p":"N3","x":1.899,"y":6.116},{"p":"N3","x":1.978,"y":6.116},{"p":"N3","x":2.089,"y":6.116},{"p":"N3","x":2.179,"y":6.116},{"p":"N3","x":2.268,"y":6.116},
{"p":"N3","x":1.821,"y":6.095},{"p":"N3","x":1.877,"y":6.095},{"p":"N3","x":1.944,"y":6.095},{"p":"N3","x":2.022,"y":6.095},{"p":"N3","x":2.112,"y":6.095},{"p":"N3","x":2.168,"y":6.095},
{"p":"N3","x":1.855,"y":6.077},{"p":"N3","x":1.955,"y":6.077},{"p":"N3","x":2.067,"y":6.077},{"p":"N3","x":2.004,"y":6.046},{"p":"N3","x":2.011,"y":6.017},{"p":"N3","x":1.989,"y":5.996},{"p":"N3","x":2.033,"y":5.996},
{"p":"N3","x":2.0,"y":5.954},{"p":"N3","x":1.955,"y":5.922},{"p":"N3","x":2.056,"y":5.922},{"p":"N3","x":2.011,"y":5.894},{"p":"N3","x":1.922,"y":5.874},{"p":"N3","x":2.089,"y":5.874},{"p":"N3","x":1.966,"y":5.856},{"p":"N3","x":2.033,"y":5.856},{"p":"N3","x":2.004,"y":5.795}
]},
"spacing":28,
"vconcat":[
{"concat":[
{"width":351,"height":234,
"title":{"text":["Atazanavir/Ritonavir","+ Lamivudine"],"dx":-20},
"encoding":{"x":{"field":"x","type":"quantitative","scale":{"domain":[0.329,2.685],"nice":false,"zero":false},"axis":{"values":[1,2],"labelExpr":"datum.value==1?'BL':'W48'","title":null}},
"y":{"field":"y","type":"quantitative","scale":{"domain":[2.5,5],"nice":false,"zero":false},"axis":{"values":[2.5,3,3.5,4,4.5,5],"format":".1f","title":"Log₁₀ IL-6 (pg/L)","titleX":-66,"titleY":117}}},
"layer":[
{"data":{"name":"pts"},"transform":[{"filter":"datum.p=='L1'"}],"mark":{"type":"circle","size":36,"color":"#1e1e1e","opacity":1}},
{"data":{"name":"stats"},"transform":[{"filter":"datum.p=='L1' && datum.k=='med'"}],"mark":{"type":"tick","orient":"horizontal","size":100,"thickness":2,"color":"#333"}},
{"data":{"name":"stats"},"transform":[{"filter":"datum.p=='L1' && datum.k!='med'"}],"mark":{"type":"tick","orient":"horizontal","size":50,"thickness":2,"color":"#333"}},
{"data":{"name":"iqr"},"transform":[{"filter":"datum.p=='L1'"}],"mark":{"type":"rule","strokeWidth":2,"color":"#333"},"encoding":{"y2":{"field":"y2"}}},
{"data":{"name":"br"},"transform":[{"filter":"datum.p=='L1'"}],"mark":{"type":"tick","orient":"horizontal","size":126,"thickness":1.5,"color":"#555"}},
{"data":{"name":"br"},"transform":[{"filter":"datum.p=='L1'"}],"mark":{"type":"text","font":"DejaVu Sans","fontSize":17,"color":"#444","baseline":"alphabetic","dy":-6},"encoding":{"text":{"field":"t"}}}
]},
{"width":336,"height":234,
"title":{"text":["Atazanavir/Ritonavir","+ 2 NRTI"],"dx":-1},
"encoding":{"x":{"field":"x","type":"quantitative","scale":{"domain":[0.329,2.584],"nice":false,"zero":false},"axis":{"values":[1,2],"labelExpr":"datum.value==1?'BL':'W48'","title":null}},
"y":{"field":"y","type":"quantitative","scale":{"domain":[2.5,5],"nice":false,"zero":false},"axis":{"values":[2.5,3,3.5,4,4.5,5],"format":".1f","title":null}}},
"layer":[
{"data":{"name":"pts"},"transform":[{"filter":"datum.p=='N1'"}],"mark":{"type":"circle","size":36,"color":"#1e1e1e","opacity":1}},
{"data":{"name":"stats"},"transform":[{"filter":"datum.p=='N1' && datum.k=='med'"}],"mark":{"type":"tick","orient":"horizontal","size":100,"thickness":2,"color":"#333"}},
{"data":{"name":"stats"},"transform":[{"filter":"datum.p=='N1' && datum.k!='med'"}],"mark":{"type":"tick","orient":"horizontal","size":50,"thickness":2,"color":"#333"}},
{"data":{"name":"iqr"},"transform":[{"filter":"datum.p=='N1'"}],"mark":{"type":"rule","strokeWidth":2,"color":"#333"},"encoding":{"y2":{"field":"y2"}}},
{"data":{"name":"br"},"transform":[{"filter":"datum.p=='N1'"}],"mark":{"type":"tick","orient":"horizontal","size":126,"thickness":1.5,"color":"#555"}},
{"data":{"name":"br"},"transform":[{"filter":"datum.p=='N1'"}],"mark":{"type":"text","font":"DejaVu Sans","fontSize":17,"color":"#444","baseline":"alphabetic","dy":-6},"encoding":{"text":{"field":"t"}}}
]},
{"width":351,"height":235,
"encoding":{"x":{"field":"x","type":"quantitative","scale":{"domain":[0.329,2.685],"nice":false,"zero":false},"axis":{"values":[1,2],"labelExpr":"datum.value==1?'BL':'W48'","title":null}},
"y":{"field":"y","type":"quantitative","scale":{"domain":[4,9],"nice":false,"zero":false},"axis":{"values":[4,5,6,7,8,9],"format":"d","title":"Log₁₀ CRP (pg/mL)","titleX":-66,"titleY":117.5}}},
"layer":[
{"data":{"name":"pts"},"transform":[{"filter":"datum.p=='L2'"}],"mark":{"type":"circle","size":36,"color":"#1e1e1e","opacity":1}},
{"data":{"name":"stats"},"transform":[{"filter":"datum.p=='L2' && datum.k=='med'"}],"mark":{"type":"tick","orient":"horizontal","size":100,"thickness":2,"color":"#333"}},
{"data":{"name":"stats"},"transform":[{"filter":"datum.p=='L2' && datum.k!='med'"}],"mark":{"type":"tick","orient":"horizontal","size":50,"thickness":2,"color":"#333"}},
{"data":{"name":"iqr"},"transform":[{"filter":"datum.p=='L2'"}],"mark":{"type":"rule","strokeWidth":2,"color":"#333"},"encoding":{"y2":{"field":"y2"}}},
{"data":{"name":"br"},"transform":[{"filter":"datum.p=='L2'"}],"mark":{"type":"tick","orient":"horizontal","size":126,"thickness":1.5,"color":"#555"}},
{"data":{"name":"br"},"transform":[{"filter":"datum.p=='L2'"}],"mark":{"type":"text","font":"DejaVu Sans","fontSize":17,"color":"#444","baseline":"alphabetic","dy":-6},"encoding":{"text":{"field":"t"}}}
]},
{"width":336,"height":235,
"encoding":{"x":{"field":"x","type":"quantitative","scale":{"domain":[0.329,2.584],"nice":false,"zero":false},"axis":{"values":[1,2],"labelExpr":"datum.value==1?'BL':'W48'","title":null}},
"y":{"field":"y","type":"quantitative","scale":{"domain":[4,9],"nice":false,"zero":false},"axis":{"values":[4,5,6,7,8,9],"format":"d","title":null}}},
"layer":[
{"data":{"name":"pts"},"transform":[{"filter":"datum.p=='N2'"}],"mark":{"type":"circle","size":36,"color":"#1e1e1e","opacity":1}},
{"data":{"name":"stats"},"transform":[{"filter":"datum.p=='N2' && datum.k=='med'"}],"mark":{"type":"tick","orient":"horizontal","size":100,"thickness":2,"color":"#333"}},
{"data":{"name":"stats"},"transform":[{"filter":"datum.p=='N2' && datum.k!='med'"}],"mark":{"type":"tick","orient":"horizontal","size":50,"thickness":2,"color":"#333"}},
{"data":{"name":"iqr"},"transform":[{"filter":"datum.p=='N2'"}],"mark":{"type":"rule","strokeWidth":2,"color":"#333"},"encoding":{"y2":{"field":"y2"}}},
{"data":{"name":"br"},"transform":[{"filter":"datum.p=='N2'"}],"mark":{"type":"tick","orient":"horizontal","size":126,"thickness":1.5,"color":"#555"}},
{"data":{"name":"br"},"transform":[{"filter":"datum.p=='N2'"}],"mark":{"type":"text","font":"DejaVu Sans","fontSize":17,"color":"#444","baseline":"alphabetic","dy":-6},"encoding":{"text":{"field":"t"}}}
]}
],"columns":2,"spacing":{"row":21,"column":51}},
{"hconcat":[
{"width":351,"height":237,
"encoding":{"x":{"field":"x","type":"quantitative","scale":{"domain":[0.329,2.685],"nice":false,"zero":false},"axis":{"values":[1,2],"labelExpr":"datum.value==1?'BL':'W48'","title":null}},
"y":{"field":"y","type":"quantitative","scale":{"domain":[5.5,6.5],"nice":false,"zero":false},"axis":{"values":[5.5,6,6.5],"format":".1f","title":"Log₁₀ sCD14 (pg/mL)","titleX":-66,"titleY":118.5}}},
"layer":[
{"data":{"name":"pts"},"transform":[{"filter":"datum.p=='L3'"}],"mark":{"type":"circle","size":36,"color":"#1e1e1e","opacity":1}},
{"data":{"name":"stats"},"transform":[{"filter":"datum.p=='L3' && datum.k=='med'"}],"mark":{"type":"tick","orient":"horizontal","size":100,"thickness":2,"color":"#333"}},
{"data":{"name":"stats"},"transform":[{"filter":"datum.p=='L3' && datum.k!='med'"}],"mark":{"type":"tick","orient":"horizontal","size":50,"thickness":2,"color":"#333"}},
{"data":{"name":"iqr"},"transform":[{"filter":"datum.p=='L3'"}],"mark":{"type":"rule","strokeWidth":2,"color":"#333"},"encoding":{"y2":{"field":"y2"}}},
{"data":{"name":"br"},"transform":[{"filter":"datum.p=='L3'"}],"mark":{"type":"tick","orient":"horizontal","size":126,"thickness":1.5,"color":"#555"}},
{"data":{"name":"br"},"transform":[{"filter":"datum.p=='L3'"}],"mark":{"type":"text","font":"DejaVu Sans","fontSize":17,"color":"#444","baseline":"alphabetic","dy":-6},"encoding":{"text":{"field":"t"}}}
]},
{"width":336,"height":237,
"encoding":{"x":{"field":"x","type":"quantitative","scale":{"domain":[0.329,2.584],"nice":false,"zero":false},"axis":{"values":[1,2],"labelExpr":"datum.value==1?'BL':'W48'","title":null}},
"y":{"field":"y","type":"quantitative","scale":{"domain":[5.5,6.5],"nice":false,"zero":false},"axis":{"values":[5.5,6,6.5],"format":".1f","title":null}}},
"layer":[
{"data":{"name":"pts"},"transform":[{"filter":"datum.p=='N3'"}],"mark":{"type":"circle","size":36,"color":"#1e1e1e","opacity":1}},
{"data":{"name":"stats"},"transform":[{"filter":"datum.p=='N3' && datum.k=='med'"}],"mark":{"type":"tick","orient":"horizontal","size":100,"thickness":2,"color":"#333"}},
{"data":{"name":"stats"},"transform":[{"filter":"datum.p=='N3' && datum.k!='med'"}],"mark":{"type":"tick","orient":"horizontal","size":50,"thickness":2,"color":"#333"}},
{"data":{"name":"iqr"},"transform":[{"filter":"datum.p=='N3'"}],"mark":{"type":"rule","strokeWidth":2,"color":"#333"},"encoding":{"y2":{"field":"y2"}}},
{"data":{"name":"br"},"transform":[{"filter":"datum.p=='N3'"}],"mark":{"type":"tick","orient":"horizontal","size":126,"thickness":1.5,"color":"#555"}},
{"data":{"name":"br"},"transform":[{"filter":"datum.p=='N3'"}],"mark":{"type":"text","font":"DejaVu Sans","fontSize":17,"color":"#444","baseline":"alphabetic","dy":-6},"encoding":{"text":{"field":"t"}}}
]}
],"spacing":51}
]
}
